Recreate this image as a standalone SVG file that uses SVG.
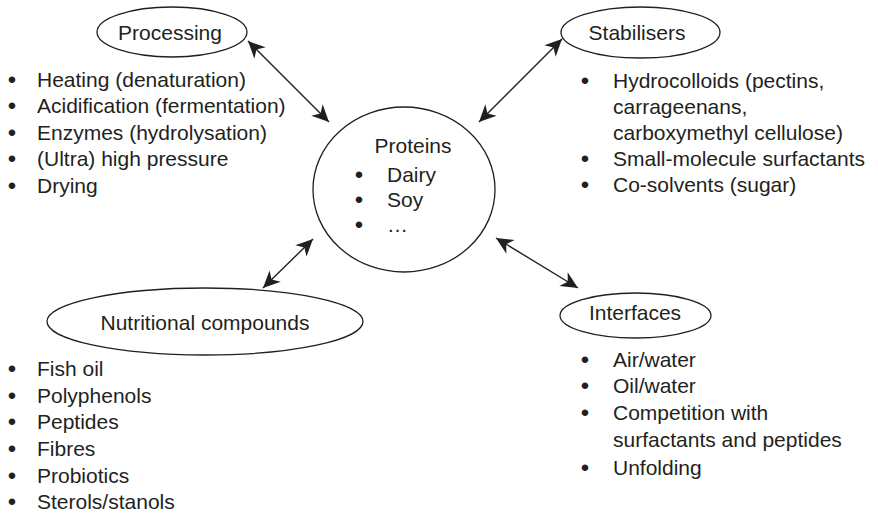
<svg xmlns="http://www.w3.org/2000/svg" width="878" height="515" viewBox="0 0 878 515">
  <style>
    text { font-family: "Liberation Sans", Arial, Helvetica, sans-serif; font-size: 21px; fill: #231f20; }
    .title { text-anchor: middle; }
    .dot { text-anchor: middle; font-size: 24px; }
    .shape { fill: none; stroke: #231f20; stroke-width: 1.3; }
    .link { fill: none; stroke: #231f20; stroke-width: 1.4; marker-start: url(#head); marker-end: url(#head); }
  </style>
  <defs>
    <!-- barbed arrowhead, tip at (17,8) -->
    <marker id="head" markerUnits="userSpaceOnUse" markerWidth="18" markerHeight="16" refX="17" refY="8" orient="auto-start-reverse" overflow="visible">
      <path d="M0,0 L17,8 L0,16 L5,8 Z" fill="#231f20"/>
    </marker>
  </defs>
  <rect width="878" height="515" fill="#ffffff"/>

  <!-- double-headed links to the centre -->
  <g id="connectors">
    <line class="link" x1="248" y1="41" x2="329" y2="122"/>
    <line class="link" x1="562" y1="39" x2="479" y2="122"/>
    <line class="link" x1="313" y1="239" x2="263" y2="288"/>
    <line class="link" x1="496" y1="238" x2="578" y2="288"/>
  </g>

  <g id="proteins">
    <ellipse class="shape" cx="404" cy="189.5" rx="91" ry="82.5"/>
    <text class="title" x="413" y="153">Proteins</text>
    <text class="dot" x="359" y="183">•</text><text x="387" y="182">Dairy</text>
    <text class="dot" x="359" y="208">•</text><text x="387" y="207">Soy</text>
    <text class="dot" x="359" y="233">•</text><text x="387" y="232">…</text>
  </g>

  <g id="processing">
    <ellipse class="shape" cx="172" cy="32" rx="75" ry="25"/>
    <text class="title" x="170" y="40">Processing</text>
    <text class="dot" x="12" y="88">•</text><text x="37" y="87">Heating (denaturation)</text>
    <text class="dot" x="12" y="114">•</text><text x="37" y="113">Acidification (fermentation)</text>
    <text class="dot" x="12" y="141">•</text><text x="37" y="140">Enzymes (hydrolysation)</text>
    <text class="dot" x="12" y="167">•</text><text x="37" y="166">(Ultra) high pressure</text>
    <text class="dot" x="12" y="194">•</text><text x="37" y="193">Drying</text>
  </g>

  <g id="stabilisers">
    <ellipse class="shape" cx="640.5" cy="32.5" rx="79.5" ry="25.5"/>
    <text class="title" x="637" y="40">Stabilisers</text>
    <text class="dot" x="585" y="89">•</text><text x="613" y="88">Hydrocolloids (pectins,</text>
    <text x="613" y="114">carrageenans,</text>
    <text x="613" y="140">carboxymethyl cellulose)</text>
    <text class="dot" x="585" y="167">•</text><text x="613" y="166">Small-molecule surfactants</text>
    <text class="dot" x="585" y="193">•</text><text x="613" y="192">Co-solvents (sugar)</text>
  </g>

  <g id="nutritional">
    <ellipse class="shape" cx="205" cy="321.5" rx="158" ry="33.5"/>
    <text class="title" x="205" y="330">Nutritional compounds</text>
    <text class="dot" x="12" y="377">•</text><text x="37" y="376">Fish oil</text>
    <text class="dot" x="12" y="404">•</text><text x="37" y="403">Polyphenols</text>
    <text class="dot" x="12" y="430">•</text><text x="37" y="429">Peptides</text>
    <text class="dot" x="12" y="457">•</text><text x="37" y="456">Fibres</text>
    <text class="dot" x="12" y="484">•</text><text x="37" y="483">Probiotics</text>
    <text class="dot" x="12" y="510">•</text><text x="37" y="509">Sterols/stanols</text>
  </g>

  <g id="interfaces">
    <ellipse class="shape" cx="635.5" cy="315.5" rx="75.5" ry="22.5"/>
    <text class="title" x="635" y="320">Interfaces</text>
    <text class="dot" x="585" y="368">•</text><text x="613" y="367">Air/water</text>
    <text class="dot" x="585" y="394">•</text><text x="613" y="393">Oil/water</text>
    <text class="dot" x="585" y="421">•</text><text x="613" y="420">Competition with</text>
    <text x="613" y="447">surfactants and peptides</text>
    <text class="dot" x="585" y="476">•</text><text x="613" y="475">Unfolding</text>
  </g>
</svg>
